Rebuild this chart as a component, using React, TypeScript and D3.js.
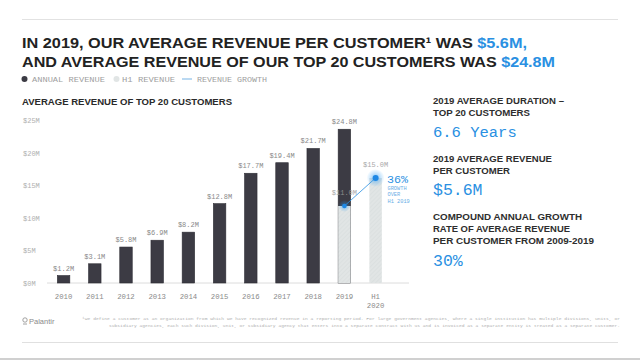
import React from "react";
import * as d3 from "d3";

const categories = ["2010", "2011", "2012", "2013", "2014", "2015", "2016", "2017", "2018", "2019", "H1 2020"];
const annualRevenue: (number | null)[] = [1.2, 3.1, 5.8, 6.9, 8.2, 12.8, 17.7, 19.4, 21.7, 24.8, null];
const h1Revenue: (number | null)[] = [null, null, null, null, null, null, null, null, null, 11.0, 15.0];
const yTickValues = [0, 5, 10, 15, 20, 25];
const legendItems = ["ANNUAL REVENUE", "H1 REVENUE", "REVENUE GROWTH"];
const growthValue = "36%";
const growthNote = ["GROWTH", "OVER", "H1 2019"];
const statLabels = [
  ["2019 AVERAGE DURATION –", "TOP 20 CUSTOMERS"],
  ["2019 AVERAGE REVENUE", "PER CUSTOMER"],
  ["COMPOUND ANNUAL GROWTH", "RATE OF AVERAGE REVENUE", "PER CUSTOMER FROM 2009-2019"],
];
const statValues = ["6.6 Years", "$5.6M", "30%"];
const footnote = [
  "¹We define a customer as an organization from  which we have recognized revenue in a reporting  period. For large government agencies, where a  single institution has multiple divisions, units, or",
  "subsidiary agencies, each such division, unit, or  subsidiary agency that enters into a separate  contract with us and is invoiced as a separate  entity is treated as a separate customer.",
];

const DARK = "#3c3b44";
const LIGHT = "#e1e5e5";
const BLUE = "#2a90e2";
const MONO = "'Liberation Mono', 'DejaVu Sans Mono', monospace";
const SANS = "'Liberation Sans Narrow', 'Liberation Sans', Arial, sans-serif";

export default function App() {
  const x = d3.scaleBand<string>().domain(categories).range([48, 391.2]).paddingInner(0.6).paddingOuter(0.3);
  const bw = x.bandwidth();
  const yBar = d3.scaleLinear().domain([0, 25]).range([283, 128]);
  const yAxis = d3.scaleLinear().domain([0, 25]).range([283, 120.5]);
  const yH1 = d3.scaleLinear().domain([0, 15]).range([283, 178]);
  const cx = (c: string) => (x(c) ?? 0) + bw / 2;

  const growthPts: [number, number][] = categories
    .map((c, i) => [c, h1Revenue[i]] as [string, number | null])
    .filter((d) => d[1] != null)
    .map((d) => [cx(d[0]), yH1(d[1] as number)]);
  const line = d3.line();

  const labelWidths = [[131, 97], [119, 77], [149, 137, 161]];
  const labelBase = [103.5, 161.7, 220];
  const valueBase = [137, 195, 266];
  const valueSize = [15.5, 16.5, 16.5];

  return (
    <svg width={640} height={360} style={{ position: "absolute", left: 0, top: 0 }}>
      <defs>
        <pattern id="hatch" width={3} height={3} patternUnits="userSpaceOnUse" patternTransform="rotate(45)">
          <rect width={3} height={3} fill={LIGHT} />
          <line x1={0} y1={0} x2={0} y2={3} stroke="#d6dbdb" strokeWidth={1} />
        </pattern>
        <radialGradient id="glow">
          <stop offset="0%" stopColor="#2196f3" stopOpacity={0.7} />
          <stop offset="45%" stopColor="#2196f3" stopOpacity={0.3} />
          <stop offset="100%" stopColor="#2196f3" stopOpacity={0} />
        </radialGradient>
      </defs>
      <rect width={640} height={360} fill="#fff" />
      <line x1={22} x2={618} y1={19.5} y2={19.5} stroke="#e2e2e2" />

      <text x={22} y={48} fontFamily={SANS} fontWeight="bold" fontSize={15.5} fill="#222" textLength={505} lengthAdjust="spacingAndGlyphs">
        IN 2019, OUR AVERAGE REVENUE PER CUSTOMER¹ WAS <tspan fill={BLUE}>$5.6M,</tspan>
      </text>
      <text x={22} y={67} fontFamily={SANS} fontWeight="bold" fontSize={15.5} fill="#222" textLength={533} lengthAdjust="spacingAndGlyphs">
        AND AVERAGE REVENUE OF OUR TOP 20 CUSTOMERS WAS <tspan fill={BLUE}>$24.8M</tspan>
      </text>

      {/* legend */}
      <circle cx={24.5} cy={79} r={3} fill={DARK} />
      <text x={32} y={81.5} fontFamily={MONO} fontSize={6.5} fill="#a0a0a0" textLength={73} lengthAdjust="spacingAndGlyphs">{legendItems[0]}</text>
      <circle cx={116.5} cy={79} r={3} fill={LIGHT} />
      <text x={122} y={81.5} fontFamily={MONO} fontSize={6.5} fill="#a0a0a0" textLength={53} lengthAdjust="spacingAndGlyphs">{legendItems[1]}</text>
      <line x1={182} x2={192} y1={79} y2={79} stroke="#8cc0ea" strokeWidth={1.2} />
      <text x={197} y={81.5} fontFamily={MONO} fontSize={6.5} fill="#a0a0a0" textLength={70} lengthAdjust="spacingAndGlyphs">{legendItems[2]}</text>

      <text x={22} y={105} fontFamily={SANS} fontWeight="bold" fontSize={9.3} fill="#2a2a2a" textLength={210} lengthAdjust="spacingAndGlyphs">
        AVERAGE REVENUE OF TOP 20 CUSTOMERS
      </text>

      {/* y tick labels */}
      {yTickValues.map((v) => (
        <text key={v} x={23} y={yAxis(v) + 2.5} fontFamily={MONO} fontSize={7} fill="#b0b0b0">{`$${v}M`}</text>
      ))}
      <line x1={47} x2={409} y1={283} y2={283} stroke="#dcdcdc" strokeWidth={1} />

      {/* annual bars */}
      {categories.map((c, i) => {
        const v = annualRevenue[i];
        if (v == null) return null;
        return <rect key={c} x={x(c)} y={yBar(v)} width={bw} height={283 - yBar(v)} fill={DARK} stroke="#2e2d35" strokeWidth={0.6} />;
      })}
      {/* H1 bars */}
      {categories.map((c, i) => {
        const v = h1Revenue[i];
        if (v == null) return null;
        return <rect key={c} x={x(c)} y={yH1(v)} width={bw} height={283 - yH1(v)} fill="url(#hatch)" />;
      })}

      {/* annual labels */}
      {categories.map((c, i) => {
        const v = annualRevenue[i];
        if (v == null) return null;
        return (
          <text key={c} x={cx(c)} y={yBar(v) - 5} textAnchor="middle" fontFamily={MONO} fontSize={7} fill="#8a8a8a">{`$${v.toFixed(1)}M`}</text>
        );
      })}
      {categories.map((c, i) => {
        const v = h1Revenue[i];
        if (v == null) return null;
        return (
          <text key={c} x={cx(c)} y={yH1(v) - 11} textAnchor="middle" fontFamily={MONO} fontSize={7} fill="#9a9a9a" opacity={0.85}>{`$${v.toFixed(1)}M`}</text>
        );
      })}

      {/* growth line */}
      <path d={line(growthPts) ?? ""} stroke={BLUE} strokeWidth={0.8} fill="none" />
      {growthPts.map((p, i) => (
        <g key={i}>
          <circle cx={p[0]} cy={p[1]} r={i === growthPts.length - 1 ? 9 : 6} fill="url(#glow)" />
          <circle cx={p[0]} cy={p[1]} r={i === growthPts.length - 1 ? 3 : 2.3} fill="#1e88e5" />
        </g>
      ))}
      <text x={387} y={183} fontFamily={MONO} fontSize={11} fill={BLUE} textLength={21} lengthAdjust="spacingAndGlyphs">{growthValue}</text>
      {growthNote.map((t, i) => (
        <text key={t} x={387.5} y={189.5 + i * 6.7} fontFamily={MONO} fontSize={5.3} fill="#6aaee6">{t}</text>
      ))}

      {/* x labels */}
      {categories.map((c) => {
        const parts = c.split(" ");
        return parts.map((p, j) => (
          <text key={c + j} x={cx(c)} y={298.5 + j * 9} textAnchor="middle" fontFamily={MONO} fontSize={7.3} fill="#8a8a8a">{p}</text>
        ));
      })}

      {/* right panel */}
      {statLabels.map((lines, k) => (
        <g key={k}>
          {lines.map((t, j) => (
            <text key={t} x={433} y={labelBase[k] + j * 12.2} fontFamily={SANS} fontWeight="bold" fontSize={9.3} fill="#2e2e2e" textLength={labelWidths[k][j]} lengthAdjust="spacingAndGlyphs">{t}</text>
          ))}
          <text x={433} y={valueBase[k]} fontFamily={MONO} fontSize={valueSize[k]} fill={BLUE}>{statValues[k]}</text>
        </g>
      ))}

      {/* footer */}
      <circle cx={25} cy={320} r={2.2} fill="none" stroke="#8a8a8a" strokeWidth={0.8} />
      <line x1={23} x2={27} y1={324} y2={324} stroke="#8a8a8a" strokeWidth={0.8} />
      <text x={29} y={324} fontFamily={SANS} fontSize={7.5} fill="#8a8a8a">Palantir</text>
      {footnote.map((t, i) => (
        <text key={i} x={620} y={320 + i * 6.5} textAnchor="end" fontFamily={MONO} fontSize={4.4} fill="#b0b0b0" textLength={i === 0 ? 538 : 511} lengthAdjust="spacingAndGlyphs">{t}</text>
      ))}
      <line x1={22} x2={618} y1={342.5} y2={342.5} stroke="#e0e0e0" />
      <line x1={0} x2={640} y1={359} y2={359} stroke="#d0d0d0" strokeWidth={2} />
    </svg>
  );
}
